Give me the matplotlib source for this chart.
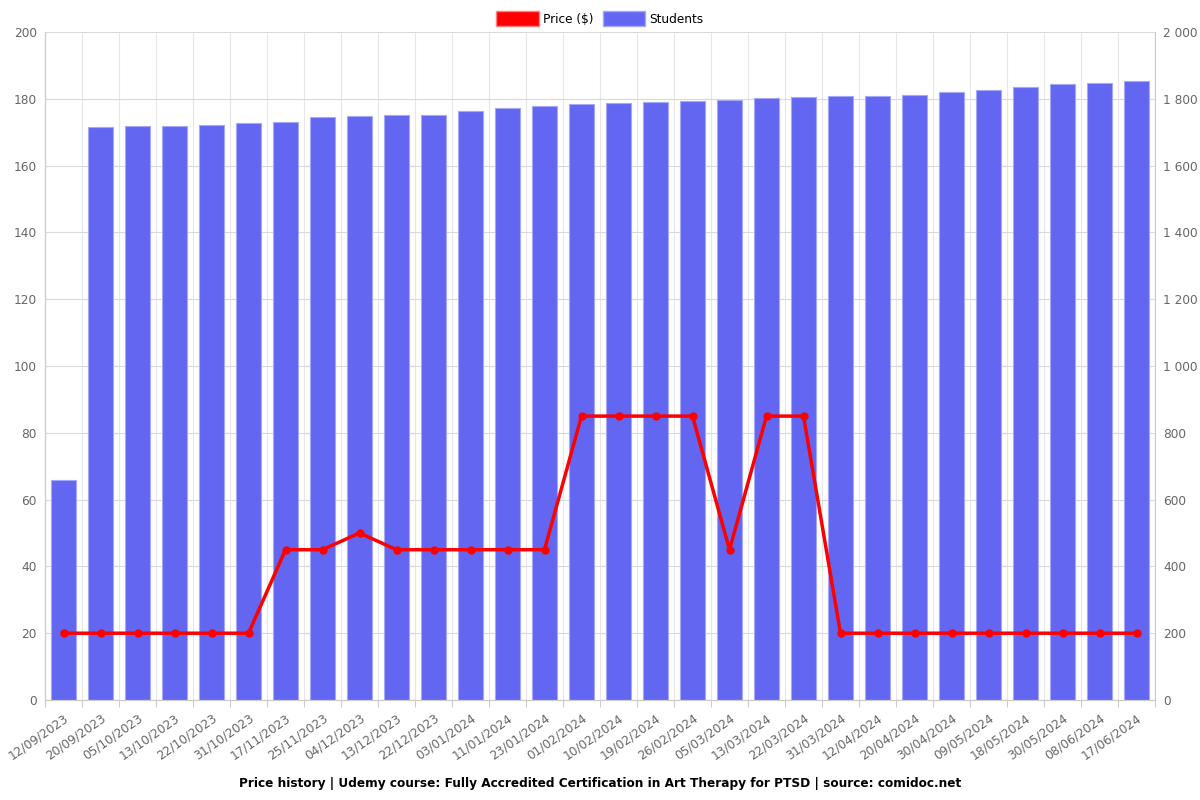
import matplotlib.pyplot as plt
from matplotlib.patches import Patch
from matplotlib.ticker import FuncFormatter

dates = ["12/09/2023", "20/09/2023", "05/10/2023", "13/10/2023", "22/10/2023",
         "31/10/2023", "17/11/2023", "25/11/2023", "04/12/2023", "13/12/2023",
         "22/12/2023", "03/01/2024", "11/01/2024", "23/01/2024", "01/02/2024",
         "10/02/2024", "19/02/2024", "26/02/2024", "05/03/2024", "13/03/2024",
         "22/03/2024", "31/03/2024", "12/04/2024", "20/04/2024", "30/04/2024",
         "09/05/2024", "18/05/2024", "30/05/2024", "08/06/2024", "17/06/2024"]
price = [20, 20, 20, 20, 20, 20, 45, 45, 50, 45, 45, 45, 45, 45, 85,
         85, 85, 85, 45, 85, 85, 20, 20, 20, 20, 20, 20, 20, 20, 20]
students = [659, 1715, 1718, 1719, 1722, 1728, 1731, 1745, 1750, 1752,
            1752, 1763, 1773, 1777, 1784, 1787, 1790, 1794, 1797, 1802,
            1806, 1808, 1808, 1811, 1820, 1826, 1835, 1843, 1848, 1852]

blue = "#6366f1"
red = "#ff0000"
grey = "#666666"
fs = 8.7

fig = plt.figure(figsize=(12, 8), dpi=100)
ax = fig.add_axes([0.0375, 0.125, 0.925, 0.835])
ax2 = ax.twinx()

x = list(range(len(dates)))

# bars on the students axis
ax2.bar(x, students, width=0.68, color=blue, edgecolor="#a5a7f7", linewidth=0.8, zorder=2)
ax2.set_ylim(0, 2000)
ax2.set_yticks(range(0, 2001, 200))
ax2.yaxis.set_major_formatter(FuncFormatter(lambda v, p: f"{int(v):,}".replace(",", " ")))
ax2.set_axisbelow(True)
ax2.grid(axis="y", color="#d9d9d9", linewidth=0.8)

# price line on top
ax.set_zorder(ax2.get_zorder() + 1)
ax.patch.set_visible(False)
ax.plot(x, price, color=red, linewidth=2.5, marker="o", markersize=5, zorder=3)
ax.set_ylim(0, 200)
ax.set_yticks(range(0, 201, 20))
ax.set_xlim(-0.5, len(dates) - 0.5)

# x ticks at boundaries, labels at centres
ax.set_xticks([i - 0.5 for i in range(len(dates) + 1)])
ax.set_xticklabels([])
ax.set_xticks(x, minor=True)
ax.set_xticklabels(dates, minor=True, rotation=35, ha="right", rotation_mode="anchor")
ax.tick_params(axis="x", which="minor", length=0, pad=8)
ax.tick_params(axis="x", which="major", length=5, color="#cccccc")
for b in [i - 0.5 for i in range(len(dates) + 1)]:
    ax2.axvline(b, color="#e6e6e6", linewidth=0.8, zorder=0)

for a in (ax, ax2):
    a.tick_params(axis="y", length=0, labelsize=fs, labelcolor=grey, pad=6)
    a.tick_params(axis="x", which="both", labelsize=fs, labelcolor=grey)
    for s in a.spines.values():
        s.set_color("#cccccc")
    a.spines["top"].set_visible(False)

handles = [Patch(facecolor=red, edgecolor="#ff8080", label="Price ($)"),
           Patch(facecolor=blue, edgecolor="#a5a7f7", label="Students")]
fig.legend(handles=handles, loc="upper center", bbox_to_anchor=(0.5, 1.0), ncol=2,
           frameon=False, fontsize=fs, handlelength=3.5, handleheight=1.6,
           handletextpad=0.35, columnspacing=0.8)

fig.text(0.5, 0.021, "Price history | Udemy course: Fully Accredited Certification in Art Therapy for PTSD | source: comidoc.net",
         ha="center", va="center", fontsize=fs, fontweight="bold")

fig.savefig("out.png", dpi=100)
